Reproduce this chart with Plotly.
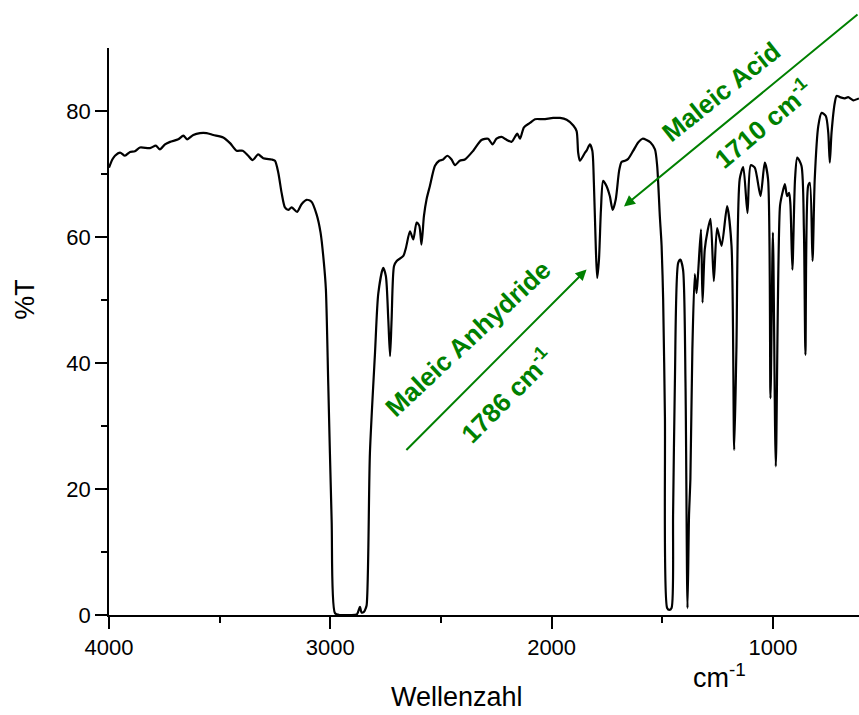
import plotly.graph_objects as go

# IR spectrum: wavenumber (cm^-1) and transmittance (%T)
wavenumber = [
    4000, 3985, 3973, 3950, 3928, 3905, 3883, 3860, 3815, 3788, 3770, 3747,
    3724, 3687, 3664, 3647, 3619, 3589, 3559, 3529, 3484, 3453, 3423, 3396,
    3371, 3351, 3326, 3303, 3265, 3250, 3235, 3220, 3205, 3190, 3175, 3150,
    3130, 3107, 3085, 3062, 3044, 3029, 3020, 3009, 2994, 2979, 2960, 2920,
    2880, 2866, 2859, 2848, 2843, 2836, 2821, 2798, 2783, 2761, 2749, 2738,
    2730, 2723, 2712, 2700, 2670, 2658, 2640, 2625, 2610, 2598, 2588, 2577,
    2565, 2550, 2527, 2508, 2490, 2472, 2452, 2437, 2415, 2392, 2354, 2317,
    2287, 2267, 2249, 2226, 2207, 2181, 2155, 2143, 2125, 2098, 2075, 2038,
    1993, 1962, 1932, 1902, 1887, 1880, 1872, 1849, 1842, 1827, 1816, 1809,
    1800, 1794, 1786, 1777, 1767, 1752, 1737, 1724, 1710, 1695, 1684, 1669,
    1654, 1631, 1609, 1589, 1571, 1553, 1533, 1523, 1511, 1503, 1496, 1488,
    1478, 1468, 1458, 1451, 1443, 1428, 1418, 1406, 1395, 1386, 1379, 1373,
    1364, 1353, 1345, 1338, 1325, 1318, 1308, 1295, 1282, 1267, 1252, 1232,
    1207, 1187, 1175, 1165, 1150, 1134, 1115, 1100, 1082, 1056, 1037, 1022,
    1011, 1000, 987, 968, 957, 946, 936, 927, 921, 912, 900, 890,
    871, 860, 853, 841, 833, 821, 811, 795, 780, 761, 750, 743,
    735, 720, 712, 697, 675, 660, 637, 611,
]
transmittance = [
    71.0, 72.3, 72.9, 73.4, 72.9, 73.5, 73.6, 74.2, 74.1, 74.5, 73.9, 74.7,
    75.1, 75.5, 76.1, 75.5, 76.2, 76.5, 76.5, 76.2, 75.8, 74.9, 73.7, 73.7,
    72.9, 72.2, 73.1, 72.5, 72.3, 72.1, 70.2, 67.0, 64.7, 64.3, 64.7, 64.0,
    65.2, 65.9, 65.6, 63.6, 60.7, 55.9, 51.7, 36.3, 15.1, 0.3, 0.0, 0.0,
    0.1, 1.3, 0.4, 0.5, 0.8, 1.5, 25.7, 41.6, 51.1, 55.1, 53.8, 46.9,
    41.1, 46.9, 55.4, 56.2, 57.0, 58.3, 60.9, 59.6, 62.3, 61.8, 58.8, 63.3,
    66.0, 68.1, 71.3, 72.1, 72.3, 72.9, 72.3, 71.4, 72.1, 72.3, 73.7, 75.4,
    75.6, 74.7, 75.6, 75.9, 75.5, 75.1, 76.4, 75.6, 77.4, 78.1, 78.7, 78.7,
    78.9, 78.9, 78.6, 77.7, 76.8, 73.4, 72.1, 73.4, 73.7, 74.7, 73.7, 68.6,
    58.0, 53.5, 56.4, 64.4, 68.9, 68.1, 66.5, 64.3, 66.0, 70.5, 71.9, 72.1,
    72.4, 73.7, 75.0, 75.6, 75.4, 75.0, 73.9, 71.3, 63.3, 58.6, 50.1, 31.5,
    1.1, 0.8, 1.1, 16.2, 36.8, 55.9, 56.4, 54.8, 36.8, 1.1, 15.9, 21.5,
    42.1, 54.1, 51.1, 54.3, 61.2, 49.6, 58.0, 61.0, 62.9, 53.0, 61.4, 58.6,
    64.9, 58.6, 26.2, 42.1, 69.2, 71.1, 63.8, 71.4, 71.0, 66.5, 71.8, 69.2,
    34.4, 60.7, 23.6, 64.9, 67.0, 68.4, 66.5, 67.0, 65.2, 54.8, 69.2, 72.6,
    71.3, 61.2, 41.3, 68.1, 68.6, 56.2, 69.2, 77.6, 79.7, 79.2, 76.6, 71.8,
    76.6, 81.4, 82.4, 82.2, 82.0, 82.2, 81.7, 82.0,
]

x_ticks = [4000, 3000, 2000, 1000]
y_ticks = [0, 20, 40, 60, 80]

GREEN = "#008000"
FONT = "Liberation Sans, Arial, sans-serif"

fig = go.Figure()
fig.add_trace(go.Scatter(
    x=wavenumber, y=transmittance, mode="lines",
    line=dict(color="black", width=2.2, shape="spline", smoothing=0.7),
    hoverinfo="skip", showlegend=False,
))

axis_common = dict(
    showline=True, linecolor="black", linewidth=1.5,
    ticks="outside", ticklen=12, tickwidth=1.5, tickcolor="black",
    showgrid=False, zeroline=False,
    tickfont=dict(family=FONT, size=22, color="black"),
)

fig.update_xaxes(
    range=[4000, 611], tickvals=x_ticks, ticktext=[str(v) for v in x_ticks],
    minor=dict(ticks="outside", ticklen=6, tickwidth=1.5, tickcolor="black",
               tickvals=[3500, 2500, 1500, 500], showgrid=False),
    **axis_common,
)
fig.update_yaxes(
    range=[0, 90], tickvals=y_ticks, ticktext=[str(v) for v in y_ticks],
    minor=dict(ticks="outside", ticklen=6, tickwidth=1.5, tickcolor="black",
               tickvals=[10, 30, 50, 70], showgrid=False),
    **axis_common,
)

annotations = [
    dict(text="%T", x=-0.112, y=0.556, textangle=-90,
         font=dict(family=FONT, size=27, color="black")),
    dict(text="Wellenzahl", x=0.464, y=-0.1446,
         font=dict(family=FONT, size=27, color="black")),
    dict(text="cm<sup>-1</sup>", x=0.8145, y=-0.108,
         font=dict(family=FONT, size=27, color="black")),
    dict(text="<b>Maleic Anhydride</b>", x=0.478, y=0.4868, textangle=-43,
         font=dict(family=FONT, size=26, color=GREEN)),
    dict(text="<b>1786 cm<sup>-1</sup></b>", x=0.530, y=0.388, textangle=-45,
         font=dict(family=FONT, size=26, color=GREEN)),
    dict(text="<b>Maleic Acid</b>", x=0.8156, y=0.923, textangle=-38.5,
         font=dict(family=FONT, size=26, color=GREEN)),
    dict(text="<b>1710 cm<sup>-1</sup></b>", x=0.8724, y=0.866, textangle=-40,
         font=dict(family=FONT, size=26, color=GREEN)),
]
for a in annotations:
    a.update(xref="paper", yref="paper", showarrow=False,
             xanchor="center", yanchor="middle")

# Arrows pointing at the carbonyl bands
arrows = [
    dict(x=1842, y=54.85, ax=2663, ay=25.96),
    dict(x=1673, y=64.86, ax=611, ay=95.5),
]
for a in arrows:
    a.update(xref="x", yref="y", axref="x", ayref="y", text="",
             showarrow=True, arrowhead=2, arrowsize=1.1, arrowwidth=2,
             arrowcolor=GREEN, standoff=0, startstandoff=0)

fig.update_layout(
    width=859, height=715,
    margin=dict(l=109, r=0, t=48, b=100),
    paper_bgcolor="white", plot_bgcolor="white",
    font=dict(family=FONT, color="black"),
    annotations=annotations + arrows,
)

fig.write_html("out.html")
